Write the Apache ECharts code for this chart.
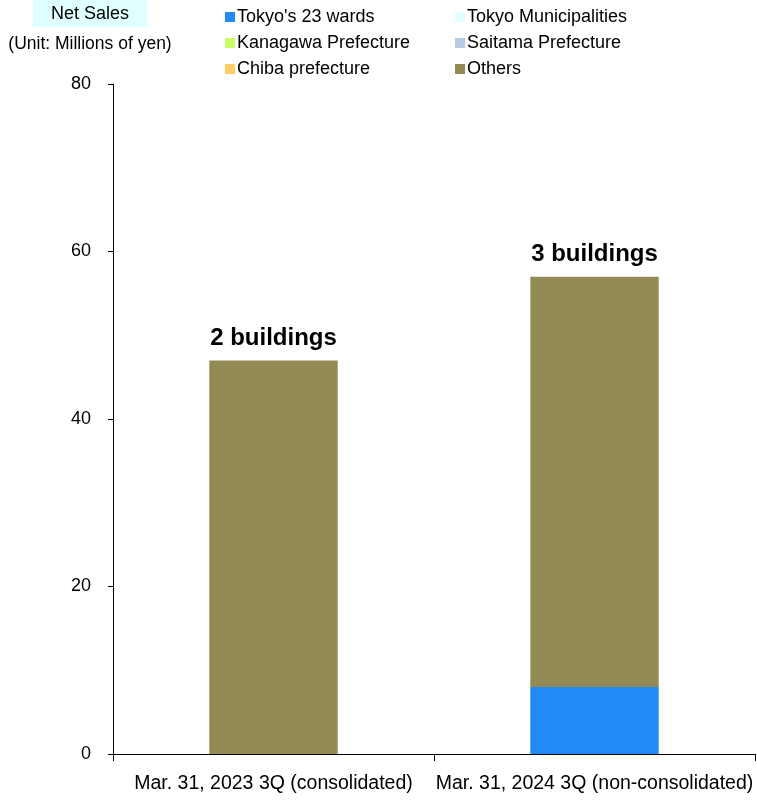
<!DOCTYPE html>
<html>
<head>
<meta charset="utf-8">
<script src="https://cdn.jsdelivr.net/npm/echarts@6/dist/echarts.min.js"></script>
<style>
  html, body { margin: 0; padding: 0; background: #fff; }
  #chart { width: 757px; height: 802px; }
</style>
</head>
<body>
<div id="chart"></div>
<script>
// categories and values (millions of yen)
const categories = ['Mar. 31, 2023 3Q (consolidated)', 'Mar. 31, 2024 3Q (non-consolidated)'];
const seriesNames = ["Tokyo's 23 wards", 'Tokyo Municipalities', 'Kanagawa Prefecture', 'Saitama Prefecture', 'Chiba prefecture', 'Others'];
const tokyo23 = [0, 8];
const tokyoMuni = [0, 0];
const kanagawa = [0, 0];
const saitama = [0, 0];
const chiba = [0, 0];
const others = [47, 49];
const buildingLabels = ['2 buildings', '3 buildings'];
const yTicks = [0, 20, 40, 60, 80];

const colors = ['#2389F7', '#E0FFFF', '#CCFF66', '#B8CCE4', '#FFCC66', '#948A54'];
const font = "'Liberation Sans', Arial, sans-serif";

let chart = echarts.init(document.getElementById('chart'));

let values = [tokyo23, tokyoMuni, kanagawa, saitama, chiba, others];
let series = seriesNames.map(function (name, i) {
    let s = {
        name: name,
        type: 'bar',
        stack: 'total',
        barWidth: '40%',
        itemStyle: { color: colors[i] },
        data: values[i]
    };
    if (name === 'Others') {
        s.label = {
            show: true,
            position: 'top',
            distance: 10,
            fontFamily: font,
            fontSize: 24,
            fontWeight: 'bold',
            color: '#000',
            formatter: function (p) { return buildingLabels[p.dataIndex]; }
        };
    }
    return s;
});

let legendBase = {
    orient: 'vertical',
    top: 3,
    itemWidth: 10,
    itemHeight: 10,
    itemGap: 8,
    icon: 'rect',
    textStyle: { fontFamily: font, fontSize: 18, lineHeight: 18, color: '#000', padding: [0, 0, 0, -3] },
    selectedMode: false
};

let option = {
    animation: false,
    textStyle: { fontFamily: font },
    graphic: [
        {
            type: 'rect',
            shape: { x: 33, y: 0, width: 114, height: 27 },
            style: { fill: '#E0FFFF' }
        },
        {
            type: 'text',
            style: { x: 90, y: 14, text: 'Net Sales', font: '18px ' + font, fill: '#000', textAlign: 'center', textVerticalAlign: 'middle' }
        },
        {
            type: 'text',
            style: { x: 90, y: 44, text: '(Unit: Millions of yen)', font: '17.5px ' + font, fill: '#000', textAlign: 'center', textVerticalAlign: 'middle' }
        }
    ],
    legend: [
        Object.assign({ left: 220, data: [seriesNames[0], seriesNames[2], seriesNames[4]] }, legendBase),
        Object.assign({ left: 450, data: [seriesNames[1], seriesNames[3], seriesNames[5]] }, legendBase)
    ],
    grid: { left: 113, right: 2, top: 84, bottom: 48, containLabel: false },
    xAxis: {
        type: 'category',
        data: categories,
        axisLine: { lineStyle: { color: '#000' } },
        axisTick: { show: true, length: 7, lineStyle: { color: '#000' } },
        axisLabel: { color: '#000', fontFamily: font, fontSize: 19.5, margin: 20, interval: 0 }
    },
    yAxis: {
        type: 'value',
        min: yTicks[0],
        max: yTicks[yTicks.length - 1],
        interval: 20,
        axisLine: { show: true, lineStyle: { color: '#000' } },
        axisTick: { show: true, length: 5, lineStyle: { color: '#000' } },
        splitLine: { show: false },
        axisLabel: { color: '#000', fontFamily: font, fontSize: 18, margin: 22 }
    },
    series: series
};

chart.setOption(option);
</script>
</body>
</html>
